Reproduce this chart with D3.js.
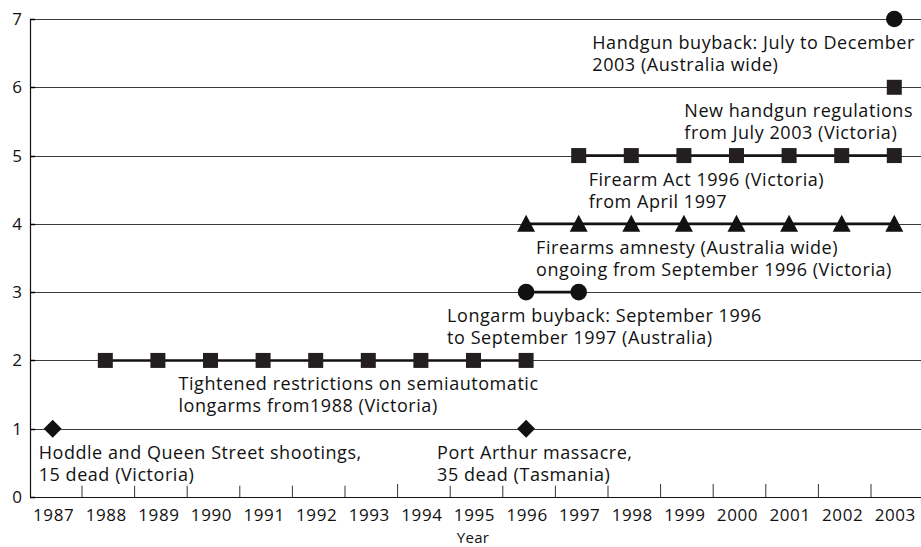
<!DOCTYPE html>
<html><head><meta charset="utf-8">
<script src="https://cdn.jsdelivr.net/npm/d3@7"></script>
<style>body{margin:0;background:#fff}svg{display:block}text{font-family:"Open Sans",sans-serif;fill:#111}</style>
</head><body>
<svg id="c" width="921" height="547"></svg>
<script>
const years = [1987,1988,1989,1990,1991,1992,1993,1994,1995,1996,1997,1998,1999,2000,2001,2002,2003];
const yTicks = [0,1,2,3,4,5,6,7];
// each event series: level, marker shape, years, connected?
const shootings = {level:1, shape:"diamond", years:[1987,1996], connected:false};
const semiauto = {level:2, shape:"square", years:[1988,1989,1990,1991,1992,1993,1994,1995,1996], connected:true};
const longarmBuyback = {level:3, shape:"circle", years:[1996,1997], connected:true};
const amnesty = {level:4, shape:"triangle", years:[1996,1997,1998,1999,2000,2001,2002,2003], connected:true};
const firearmAct = {level:5, shape:"square", years:[1997,1998,1999,2000,2001,2002,2003], connected:true};
const handgunRegs = {level:6, shape:"square", years:[2003], connected:false};
const handgunBuyback = {level:7, shape:"circle", years:[2003], connected:false};
const seriesList = [shootings, semiauto, longarmBuyback, amnesty, firearmAct, handgunRegs, handgunBuyback];
// annotation labels
const labels = [
  {year:2003, level:7, lines:["Handgun buyback: July to December","2003 (Australia wide)"], dx:-302},
  {year:2003, level:6, lines:["New handgun regulations","from July 2003 (Victoria)"], dx:-210},
  {year:1997, level:5, lines:["Firearm Act 1996 (Victoria)","from April 1997"], dx:10},
  {year:1996, level:4, lines:["Firearms amnesty (Australia wide)","ongoing from September 1996 (Victoria)"], dx:10},
  {year:1996, level:3, lines:["Longarm buyback: September 1996","to September 1997 (Australia)"], dx:-79},
  {year:1990, level:2, lines:["Tightened restrictions on semiautomatic","longarms from1988 (Victoria)"], dx:-32},
  {year:1987, level:1, lines:["Hoddle and Queen Street shootings,","15 dead (Victoria)"], dx:-14},
  {year:1996, level:1, lines:["Port Arthur massacre,","35 dead (Tasmania)"], dx:-89}
];

(function(){
const svg = d3.select("#c");
const pl = 30, pr = 921, pt = 19, pb = 497;
const x = d3.scalePoint().domain(years).range([52.7, 894.3]);
const step = x.step();
const y = d3.scaleLinear().domain([0,7]).range([pb, pt]);

svg.append("g").selectAll("line").data(yTicks.filter(d=>d>0)).join("line")
  .attr("x1", pl).attr("x2", pr)
  .attr("y1", d=>Math.round(y(d))+0.5).attr("y2", d=>Math.round(y(d))+0.5)
  .attr("stroke", "#3a3a3a").attr("stroke-width", 1);

svg.append("g").selectAll("line").data(years.slice(0,-1)).join("line")
  .attr("x1", d=>x(d)+step/2+3).attr("x2", d=>x(d)+step/2+3)
  .attr("y1", pb-13).attr("y2", pb)
  .attr("stroke", "#333").attr("stroke-width", 1);

const lineGen = d3.line().x(d=>x(d[0])).y(d=>y(d[1]));
seriesList.filter(s=>s.connected).forEach(s=>{
  svg.append("path").attr("d", lineGen(s.years.map(yr=>[yr,s.level])))
    .attr("fill","none").attr("stroke","#111").attr("stroke-width",2.6);
});

const shapePath = {
  diamond: "M0,-9L9,0L0,9L-9,0Z",
  square: "M-7.5,-7.5H7.5V7.5H-7.5Z",
  triangle: "M0,-9L9,8L-9,8Z"
};
seriesList.forEach(s=>{
  const g = svg.append("g");
  s.years.forEach(yr=>{
    if (s.shape==="circle") {
      g.append("circle").attr("cx", x(yr)).attr("cy", y(s.level)).attr("r", 8.3).attr("fill","#111");
    } else {
      g.append("path").attr("transform",`translate(${x(yr)},${y(s.level)})`)
        .attr("d", shapePath[s.shape]).attr("fill", s.shape==="square" ? "#231f20" : "#111");
    }
  });
});

labels.forEach(l=>{
  const g = svg.append("g");
  const x0 = x(l.year) + l.dx;
  const bg = g.append("rect").attr("fill","#fff");
  const t = g.append("text").attr("font-size", 18).attr("letter-spacing", 0.55);
  l.lines.forEach((ln,i)=>{
    t.append("tspan").attr("x", x0).attr("y", y(l.level) + 30 + i*22).text(ln);
  });
  const bb = t.node().getBBox();
  bg.attr("x", bb.x-2).attr("y", bb.y).attr("width", bb.width+4).attr("height", bb.height);
});

svg.append("line").attr("x1",pl+0.5).attr("x2",pl+0.5).attr("y1",pt).attr("y2",pb)
  .attr("stroke","#111").attr("stroke-width",1.2);
svg.append("line").attr("x1",pl).attr("x2",pr).attr("y1",pb+0.5).attr("y2",pb+0.5)
  .attr("stroke","#111").attr("stroke-width",1.2);
svg.append("g").selectAll("line").data(yTicks).join("line")
  .attr("x1",pl).attr("x2",pl+5).attr("y1",d=>Math.round(y(d))+0.5).attr("y2",d=>Math.round(y(d))+0.5)
  .attr("stroke","#000").attr("stroke-width",1.5);
svg.append("g").selectAll("text").data(yTicks).join("text")
  .attr("x", 22).attr("y", d=>y(d)+6).attr("text-anchor","end").attr("font-size",17).text(d=>d);
svg.append("g").selectAll("text").data(years).join("text")
  .attr("x", d=>x(d)+1).attr("y", 521).attr("text-anchor","middle").attr("font-size",17)
  .attr("letter-spacing", 0.6).text(d=>d);
svg.append("text").attr("x", 473).attr("y", 543).attr("text-anchor","middle").attr("font-size",15)
  .attr("letter-spacing", 0.3).text("Year");
})();
</script>
</body></html>
